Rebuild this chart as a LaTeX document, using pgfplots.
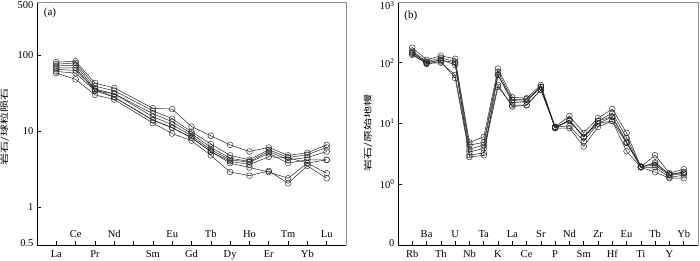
\documentclass[border=0pt]{standalone}
\usepackage{fontspec}
\setmainfont{Liberation Serif}
\newfontfamily\cjk{Noto Sans CJK SC}
\usepackage{pgfplots}
\pgfplotsset{compat=1.18}
\newcommand{\up}[1]{\raisebox{19.9pt}{#1}}

\begin{document}
\begin{tikzpicture}
\path[use as bounding box] (-37pt,-15pt) rectangle (663pt,245pt);
% ---------------- (a) ----------------
\begin{axis}[
  scale only axis, ymode=log, axis lines=left,
  axis line style={-, black, line width=0.6pt},
  tick align=inside, major tick length=4pt,
  tick style={black, line width=0.6pt},
  yminorticks=false, clip=false,
  tick label style={font=\fontsize{10.5}{12}\selectfont},
  xticklabel style={anchor=base, yshift=-12.5pt},
  every axis plot post/.append style={black!85, solid, mark=o, line width=0.5pt, mark size=2.9pt, mark options={solid, line width=0.45pt, fill=none}},
  at={(0pt,0pt)}, anchor=south west,
  width=309pt, height=243pt,
  xmin=-1, xmax=15, ymin=0.318, ymax=500,
  xtick={0,1,2,3,4,5,6,7,8,9,10,11,12,13,14},
  xticklabels={La,\up{Ce},Pr,\up{Nd},,Sm,\up{Eu},Gd,\up{Tb},Dy,\up{Ho},Er,\up{Tm},Yb,\up{Lu}},
  ytick={0.318,1,10,100,500},
  yticklabels={\raisebox{-1.5pt}[0pt][0pt]{0.5},1,10,100,\raisebox{-6.5pt}[0pt][0pt]{500}},
]
\addplot coordinates {(0,81)(1,83)(2,43)(3,37)(5,20)(6,19.5)(7,11.5)(8,8.7)(9,6.6)(10,5.4)(11,6.1)(12,4.8)(13,5.2)(14,6.6)};
\addplot coordinates {(0,76)(1,79)(2,39)(3,34)(5,18.5)(6,14.6)(7,9.8)(8,6.8)(9,4.8)(10,4.2)(11,5.7)(12,4.5)(13,4.9)(14,6.1)};
\addplot coordinates {(0,72)(1,74)(2,36)(3,31)(5,17)(6,13.3)(7,9.3)(8,6.1)(9,4.4)(10,4.0)(11,5.4)(12,4.2)(13,4.5)(14,5.4)};
\addplot coordinates {(0,68)(1,68)(2,34)(3,31)(5,15.5)(6,12.2)(7,8.7)(8,5.7)(9,4.2)(10,3.9)(11,5.1)(12,3.8)(13,4.2)(14,4.2)};
\addplot coordinates {(0,61)(1,58)(2,34)(3,28)(5,14)(6,11.1)(7,8.2)(8,5.4)(9,4.0)(10,3.65)(11,4.6)(12,4.5)(13,3.8)(14,4.2)};
\addplot coordinates {(0,65)(1,63)(2,36)(3,28)(5,14)(6,11.1)(7,8.2)(8,5.4)(9,3.8)(10,3.33)(11,2.9)(12,2.4)(13,3.8)(14,2.8)};
\addplot coordinates {(0,58)(1,48)(2,30)(3,26)(5,12.8)(6,9.3)(7,7.5)(8,4.8)(9,2.9)(10,2.6)(11,3.0)(12,2.06)(13,3.5)(14,2.4)};
\draw[black!45, line width=0.6pt] (rel axis cs:0,1) -- (rel axis cs:1,1) -- (rel axis cs:1,0);
\node[font=\fontsize{11}{12}\selectfont] at (axis description cs:0.042,0.955) {(a)};
\node[rotate=90, font=\cjk\fontsize{12}{13}\selectfont] at (axis description cs:-0.105,0.486) {\scalebox{1}[0.7]{岩石/球粒陨石}};
\end{axis}
% ---------------- (b) ----------------
\begin{axis}[
  scale only axis, ymode=log, axis lines=left,
  axis line style={-, black, line width=0.6pt},
  tick align=inside, major tick length=4pt,
  tick style={black, line width=0.6pt},
  yminorticks=false, clip=false,
  tick label style={font=\fontsize{10.5}{12}\selectfont},
  xticklabel style={anchor=base, yshift=-12.5pt},
  every axis plot post/.append style={black!85, solid, mark=o, line width=0.5pt, mark size=2.9pt, mark options={solid, line width=0.45pt, fill=none}},
  at={(361pt,0pt)}, anchor=south west,
  width=300pt, height=243pt,
  xmin=-1, xmax=20, ymin=0.1, ymax=1000,
  xtick={0,1,2,3,4,5,6,7,8,9,10,11,12,13,14,15,16,17,18,19},
  xticklabels={Rb,\up{Ba},Th,\up{U},Nb,\up{Ta},K,\up{La},Ce,\up{Sr},P,\up{Nd},Sm,\up{Zr},Hf,\up{Eu},Ti,\up{Tb},Y,\up{Yb}},
  ytick={0.1,1,10,100,1000},
  yticklabels={\raisebox{-1.5pt}[0pt][0pt]{0},10\textsuperscript{0},10\textsuperscript{1},10\textsuperscript{2},\raisebox{-8pt}[0pt][0pt]{10\textsuperscript{3}}},
]
\addplot coordinates {(0,177)(1,112)(2,130)(3,116)(4,4.9)(5,6.0)(6,80)(7,27)(8,26)(9,43)(10,8.8)(11,13.3)(12,7.0)(13,12.3)(14,17.3)(15,7.0)(16,1.95)(17,3.0)(18,1.52)(19,1.77)};
\addplot coordinates {(0,158)(1,104)(2,120)(3,104)(4,4.4)(5,4.9)(6,71)(7,24.5)(8,25)(9,40)(10,8.6)(11,11.4)(12,6.0)(13,11.0)(14,14.9)(15,5.8)(16,1.9)(17,2.3)(18,1.45)(19,1.6)};
\addplot coordinates {(0,146)(1,100)(2,112)(3,92)(4,3.8)(5,4.4)(6,63)(7,22)(8,23)(9,40)(10,8.4)(11,11.4)(12,6.0)(13,10)(14,12.8)(15,4.8)(16,1.95)(17,2.06)(18,1.41)(19,1.5)};
\addplot coordinates {(0,135)(1,97)(2,100)(3,63)(4,3.4)(5,3.9)(6,43)(7,19)(8,20)(9,36)(10,8.8)(11,9.1)(12,5.1)(13,10)(14,11)(15,4.8)(16,1.9)(17,1.9)(18,1.3)(19,1.41)};
\addplot coordinates {(0,140)(1,96)(2,105)(3,56)(4,3.0)(5,3.3)(6,40)(7,20)(8,20)(9,36)(10,8.4)(11,8.4)(12,4.2)(13,8.8)(14,11)(15,3.5)(16,1.9)(17,1.58)(18,1.26)(19,1.26)};
\addplot coordinates {(0,150)(1,100)(2,110)(3,100)(4,2.8)(5,3.0)(6,63)(7,24)(8,23)(9,40)(10,8.6)(11,11)(12,6)(13,11)(14,13)(15,5)(16,1.95)(17,2.2)(18,1.45)(19,1.55)};
\draw[black!45, line width=0.6pt] (rel axis cs:0,1) -- (rel axis cs:1,1) -- (rel axis cs:1,0);
\node[font=\fontsize{11}{12}\selectfont] at (axis description cs:0.043,0.945) {(b)};
\node[rotate=90, font=\cjk\fontsize{12}{13}\selectfont] at (axis description cs:-0.1,0.46) {\scalebox{1}[0.7]{岩石/原始地幔}};
\end{axis}
\end{tikzpicture}
\end{document}
